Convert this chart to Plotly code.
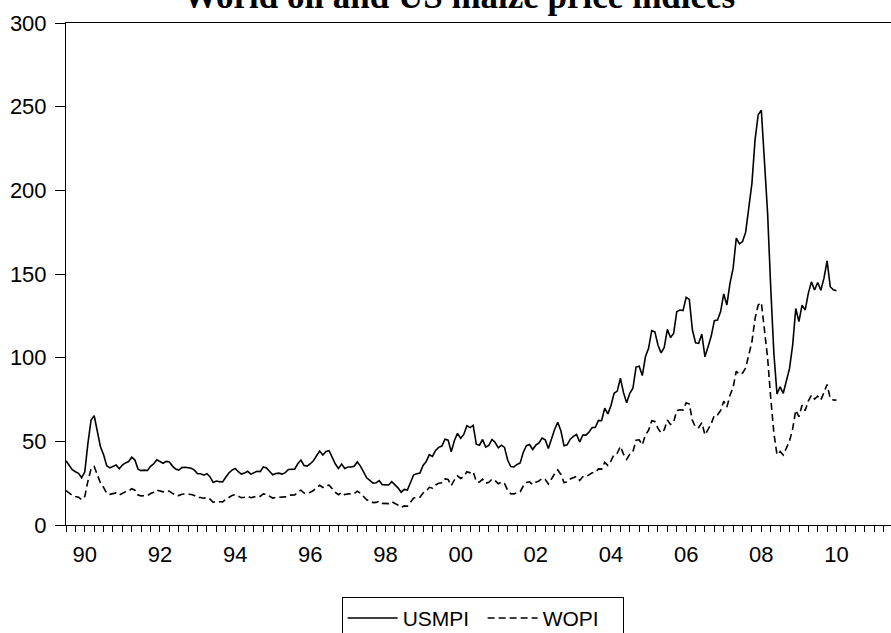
import plotly.graph_objects as go

# Monthly observations, 1990M01 .. 2010M07
start_year = 1990
usmpi = [
    38.4, 35.8, 33.0, 31.8, 30.9, 28.2, 31.8, 48.8, 62.7, 65.3, 57.0, 46.8,
    42.0, 35.4, 34.1, 35.2, 35.8, 33.6, 35.8, 37.1, 37.9, 40.5, 38.8, 33.4,
    32.5, 32.8, 32.6, 35.1, 36.6, 39.0, 37.9, 36.9, 38.0, 37.7, 35.2, 33.4,
    32.8, 34.3, 34.5, 34.3, 33.9, 32.8, 30.6, 30.6, 29.8, 30.6, 28.7, 25.4,
    26.3, 25.9, 25.7, 28.5, 31.1, 32.8, 33.8, 31.9, 30.4, 31.0, 32.1, 30.4,
    31.3, 32.1, 31.9, 34.7, 34.1, 31.9, 30.0, 30.8, 31.0, 30.4, 31.3, 33.2,
    33.2, 33.4, 36.6, 38.8, 35.6, 35.2, 36.6, 38.4, 41.4, 44.2, 41.8, 44.0,
    44.4, 39.9, 36.4, 33.8, 36.4, 33.8, 34.7, 34.7, 35.1, 37.7, 35.2, 31.7,
    28.2, 26.7, 25.0, 25.2, 26.5, 24.1, 24.1, 23.9, 25.9, 24.2, 22.2, 19.6,
    21.3, 20.9, 25.9, 30.0, 30.6, 31.0, 35.6, 37.9, 42.0, 41.0, 44.6, 46.4,
    47.2, 51.3, 50.7, 43.8, 50.4, 54.8, 51.8, 54.1, 59.3, 58.2, 59.5, 48.3,
    47.7, 51.1, 46.6, 47.6, 51.1, 49.4, 46.1, 47.7, 46.4, 38.8, 34.9, 34.7,
    36.2, 37.1, 43.5, 47.4, 48.1, 45.1, 47.7, 49.1, 52.0, 50.9, 45.7, 51.5,
    57.1, 61.4, 56.3, 47.4, 47.9, 51.3, 53.0, 54.1, 49.6, 53.7, 53.7, 55.6,
    58.2, 58.4, 62.5, 62.3, 69.8, 66.4, 71.4, 78.7, 80.0, 87.7, 79.1, 73.1,
    78.7, 81.7, 94.4, 94.9, 89.3, 100.5, 105.6, 116.2, 115.4, 107.6, 102.8, 106.1,
    116.9, 112.1, 114.5, 127.5, 128.5, 128.1, 136.1, 134.8, 116.5, 108.9, 108.5, 114.1,
    100.5, 106.5, 112.9, 122.1, 122.5, 127.5, 138.1, 131.5, 144.5, 153.5, 171.4, 168.0,
    169.4, 175.0, 189.3, 204.2, 230.3, 245.2, 247.9, 218.2, 186.5, 141.8, 102.6, 78.3,
    82.6, 78.7, 87.0, 93.6, 107.5, 129.4, 121.5, 131.4, 128.4, 138.4, 145.3, 140.4,
    144.9, 140.3, 147.5, 157.8, 142.4, 140.6, 140.0,
]
wopi = [
    20.6, 19.2, 17.7, 17.0, 16.6, 15.1, 17.0, 26.2, 33.6, 35.0, 30.6, 25.1,
    22.5, 19.0, 18.3, 18.9, 19.2, 18.0, 19.2, 19.9, 20.3, 21.7, 20.8, 17.9,
    17.4, 17.6, 17.5, 18.8, 19.6, 20.9, 20.3, 19.8, 20.4, 20.2, 18.9, 17.9,
    17.6, 18.4, 18.5, 18.4, 18.2, 17.6, 16.4, 16.4, 16.0, 16.4, 15.4, 13.6,
    14.1, 13.9, 13.8, 15.3, 16.7, 17.6, 18.1, 17.1, 16.3, 16.6, 17.2, 16.3,
    16.8, 17.2, 17.1, 18.6, 18.3, 17.1, 16.1, 16.5, 16.6, 16.3, 16.8, 17.8,
    17.8, 17.9, 19.6, 20.8, 19.1, 18.9, 19.6, 20.6, 22.2, 23.7, 22.4, 23.6,
    23.8, 21.4, 19.5, 18.1, 19.5, 18.1, 18.6, 18.6, 18.8, 20.2, 18.9, 17.0,
    15.1, 14.3, 13.4, 13.5, 14.2, 12.9, 12.9, 12.8, 13.9, 13.0, 11.9, 10.5,
    11.4, 11.2, 13.9, 16.1, 16.4, 16.6, 19.1, 20.3, 22.5, 22.0, 23.9, 24.9,
    25.3, 27.5, 27.2, 23.5, 27.0, 29.4, 27.8, 29.0, 31.8, 31.2, 31.9, 25.9,
    25.6, 27.4, 25.0, 25.5, 27.4, 26.5, 24.7, 25.6, 24.9, 20.8, 18.7, 18.6,
    19.4, 19.9, 23.3, 25.4, 25.8, 24.2, 25.6, 26.3, 27.9, 27.3, 24.5, 27.6,
    30.6, 32.9, 30.2, 25.4, 25.7, 27.5, 28.4, 29.0, 26.6, 28.8, 28.8, 29.8,
    31.2, 31.3, 33.5, 33.4, 37.4, 35.6, 38.3, 42.2, 42.9, 47.0, 42.4, 39.2,
    42.2, 43.8, 50.6, 50.9, 47.9, 53.9, 56.6, 62.3, 61.9, 57.7, 55.1, 56.9,
    62.7, 60.1, 61.4, 68.4, 68.9, 68.7, 73.0, 72.3, 62.5, 58.4, 58.2, 61.2,
    53.9, 57.1, 60.5, 65.5, 65.7, 68.4, 74.0, 70.5, 77.5, 82.3, 91.9, 90.1,
    90.8, 93.8, 101.5, 109.5, 123.5, 131.5, 132.9, 117.0, 100.0, 76.0, 55.0, 42.0,
    43.9, 41.8, 46.6, 50.2, 57.4, 68.6, 64.7, 71.6, 68.4, 74.1, 77.6, 75.2,
    77.0, 74.7, 79.3, 84.0, 75.7, 74.7, 74.6,
]
label_years = [1990, 1992, 1994, 1996, 1998, 2000, 2002, 2004, 2006, 2008, 2010]
label_text = ["90", "92", "94", "96", "98", "00", "02", "04", "06", "08", "10"]
y_ticks = [0, 50, 100, 150, 200, 250, 300]

x = [start_year + i / 12 for i in range(len(usmpi))]

fig = go.Figure()
fig.add_trace(go.Scatter(x=x, y=usmpi, mode="lines", name="USMPI",
                         line=dict(color="black", width=1.6)))
fig.add_trace(go.Scatter(x=x, y=wopi, mode="lines", name="WOPI",
                         line=dict(color="black", width=1.6, dash="7px,4px")))

fig.update_layout(
    width=891, height=633,
    margin=dict(l=66, r=0, t=23, b=108, autoexpand=False),
    paper_bgcolor="white", plot_bgcolor="white",
    font=dict(family="Liberation Sans, Arial, sans-serif", size=22, color="black"),
    showlegend=True,
    legend=dict(orientation="h", x=0.505, xanchor="center", y=-0.143, yanchor="top",
                bordercolor="black", borderwidth=1, bgcolor="white",
                itemwidth=50, entrywidth=75, entrywidthmode="pixels",
                font=dict(size=21)),
    annotations=[dict(text="<b>World oil and US maize price indices</b>",
                      xref="paper", yref="paper", x=0.476, y=1.052,
                      xanchor="center", yanchor="middle", showarrow=False,
                      font=dict(family="Liberation Serif, Times New Roman, serif",
                                size=35, color="black"))],
)
fig.update_xaxes(
    range=[1990, 2011.95], showgrid=False, zeroline=False, automargin=False,
    showline=True, linecolor="black", linewidth=1, mirror=True,
    tickmode="array", tickvals=[yr + 0.5 for yr in label_years], ticktext=label_text,
    ticks="outside", ticklen=6, tickwidth=1, tickcolor="black",
    ticklabelstandoff=4,
    minor=dict(tickmode="linear", tick0=1990, dtick=0.25, ticks="outside",
               ticklen=6, tickwidth=1, tickcolor="black", showgrid=False),
)
fig.update_yaxes(
    range=[0, 300], showgrid=False, zeroline=False, automargin=False,
    showline=True, linecolor="black", linewidth=1,
    tickmode="array", tickvals=y_ticks,
    ticks="outside", ticklen=10, tickwidth=1, tickcolor="black",
    ticklabelstandoff=4,
)

fig.write_html(
    "out.html",
    config={"displayModeBar": False},
    post_script="document.body.style.margin='0';document.body.style.overflow='hidden';",
)
